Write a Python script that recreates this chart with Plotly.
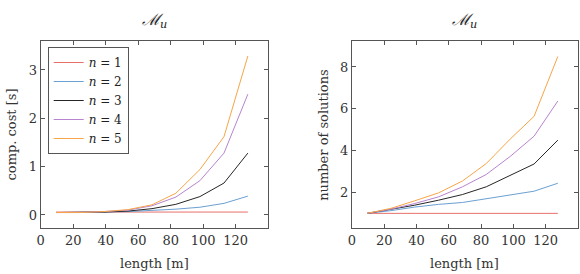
import plotly.graph_objects as go

length_m = [9.4, 24.2, 38.9, 53.7, 68.5, 83.2, 98.0, 112.8, 127.5]
labels = ["<i>n</i> = 1", "<i>n</i> = 2", "<i>n</i> = 3", "<i>n</i> = 4", "<i>n</i> = 5"]
colors = ["#e8706a", "#6aa0d2", "#262626", "#b784cf", "#f7a548"]

cost_n1 = [0.06, 0.06, 0.06, 0.06, 0.06, 0.06, 0.06, 0.06, 0.06]
cost_n2 = [0.05, 0.05, 0.06, 0.07, 0.09, 0.12, 0.16, 0.24, 0.39]
cost_n3 = [0.05, 0.05, 0.06, 0.08, 0.13, 0.22, 0.38, 0.66, 1.28]
cost_n4 = [0.05, 0.05, 0.07, 0.10, 0.19, 0.37, 0.71, 1.28, 2.50]
cost_n5 = [0.05, 0.05, 0.07, 0.11, 0.21, 0.45, 0.94, 1.62, 3.29]

sol_n1 = [1.0, 1.0, 1.0, 1.0, 1.0, 1.0, 1.0, 1.0, 1.0]
sol_n2 = [1.0, 1.13, 1.3, 1.43, 1.52, 1.71, 1.9, 2.06, 2.44]
sol_n3 = [1.0, 1.18, 1.39, 1.63, 1.9, 2.27, 2.83, 3.36, 4.5]
sol_n4 = [1.0, 1.2, 1.47, 1.79, 2.27, 2.86, 3.72, 4.69, 6.37]
sol_n5 = [1.0, 1.24, 1.6, 1.98, 2.55, 3.38, 4.55, 5.64, 8.5]

x_ticks = [0, 20, 40, 60, 80, 100, 120]
cost_ticks = [0, 1, 2, 3]
sol_ticks = [2, 4, 6, 8]

cost_series = [cost_n1, cost_n2, cost_n3, cost_n4, cost_n5]
sol_series = [sol_n1, sol_n2, sol_n3, sol_n4, sol_n5]

FONT = "DejaVu Serif"
W, H = 580, 274

fig = go.Figure()
for lab, col, ys in zip(labels, colors, cost_series):
    fig.add_trace(go.Scatter(x=length_m, y=ys, mode="lines", name=lab,
                             line=dict(color=col, width=1), xaxis="x", yaxis="y",
                             showlegend=True))
for lab, col, ys in zip(labels, colors, sol_series):
    fig.add_trace(go.Scatter(x=length_m, y=ys, mode="lines", name=lab,
                             line=dict(color=col, width=1), xaxis="x2", yaxis="y2",
                             showlegend=False))

ydom = [1 - 228 / H, 1 - 41 / H]
axis_common = dict(showline=True, linecolor="#555555", linewidth=1, mirror="ticks",
                   ticks="inside", ticklen=4, tickcolor="#555555", showgrid=False,
                   zeroline=False, tickfont=dict(family=FONT, size=13, color="#333333"))

fig.update_layout(
    width=W, height=H,
    margin=dict(l=0, r=0, t=0, b=0),
    paper_bgcolor="white", plot_bgcolor="white",
    xaxis=dict(domain=[37 / W, 266 / W], range=[0, 140], tickvals=x_ticks,
               anchor="y", **axis_common),
    yaxis=dict(domain=ydom, range=[-0.27, 3.6], tickvals=cost_ticks,
               anchor="x", **axis_common),
    xaxis2=dict(domain=[350.3 / W, 578 / W], range=[0, 140], tickvals=x_ticks,
                anchor="y2", **axis_common),
    yaxis2=dict(domain=ydom, range=[0.3, 9.24], tickvals=sol_ticks,
                anchor="x2", **axis_common),
    legend=dict(x=44 / W, y=1 - 47 / H, xanchor="left", yanchor="top",
                bgcolor="white", bordercolor="#555555", borderwidth=1,
                font=dict(family=FONT, size=12, color="#222222"),
                itemwidth=30, tracegroupgap=0),
    showlegend=True,
)

title_text = "<i>ℳ<sub>u</sub></i>"
annotations = [
    dict(text=title_text, x=151.5 / W, y=1 - 20 / H, font=dict(family=FONT, size=16, color="#222222")),
    dict(text=title_text, x=464 / W, y=1 - 20 / H, font=dict(family=FONT, size=16, color="#222222")),
    dict(text="length [m]", x=151.5 / W, y=1 - 263 / H, font=dict(family=FONT, size=13, color="#333333")),
    dict(text="length [m]", x=464 / W, y=1 - 263 / H, font=dict(family=FONT, size=13, color="#333333")),
    dict(text="comp. cost [s]", x=8 / W, y=1 - 134.5 / H, textangle=-90,
         font=dict(family=FONT, size=13, color="#333333")),
    dict(text="number of solutions", x=321.5 / W, y=1 - 134.5 / H, textangle=-90,
         font=dict(family=FONT, size=13, color="#333333")),
]
for a in annotations:
    a.update(xref="paper", yref="paper", showarrow=False, xanchor="center", yanchor="middle")
fig.update_layout(annotations=annotations)

fig.write_html("out.html")
